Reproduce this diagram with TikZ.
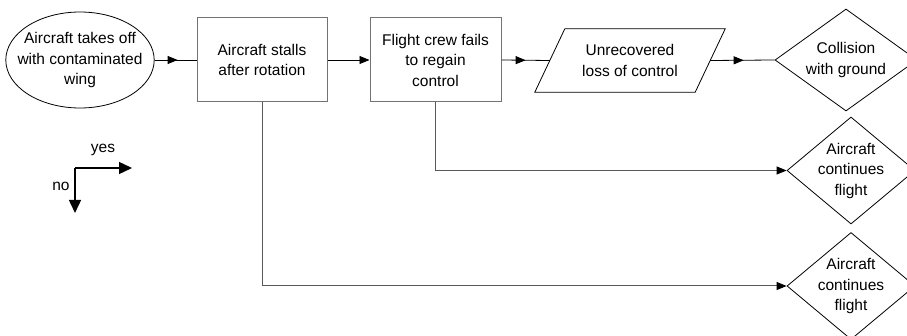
\documentclass[tikz,border=0pt]{standalone}
\usepackage{fontspec}
\setmainfont{Liberation Sans}
\usetikzlibrary{shapes.geometric,arrows.meta,decorations.markings}
\tikzset{flowhead/.tip={Triangle[length=10pt,width=8pt,color=black]}}
\begin{document}
\begin{tikzpicture}[x=1pt,y=-1pt,
  every node/.style={font=\fontsize{15.5}{20.5}\selectfont, align=center, inner sep=0pt},
  startstate/.style={draw, ellipse, line width=0.8pt, minimum width=148pt, minimum height=96pt, inner xsep=-10pt, inner ysep=0pt},
  event/.style={draw=black!55, line width=1pt, minimum height=84pt},
  outcome/.style={draw, diamond, line width=0.8pt, inner sep=-15pt},
  iobox/.style={minimum width=160pt, minimum height=63pt},
  tip/.style={-flowhead},
  midtip/.style={postaction={decorate}, decoration={markings, mark=at position #1 with {\arrow{flowhead}}}},
  flow/.style={line width=0.8pt},
  branch/.style={draw=black!65, line width=1pt},
  legend/.style={line width=1.4pt, -{Triangle[length=13pt,width=12pt]}},
]
\useasboundingbox (0,0) rectangle (907,336);
\clip (0,0) rectangle (907,336);

% main sequence
\node[startstate] (takeoff) at (80,60) {Aircraft takes off\\with contaminated\\wing};
\node[event, minimum width=130pt] (stall) at (262,60) {Aircraft stalls\\after rotation};
\node[event, minimum width=131pt] (crew) at (435.5,60) {Flight crew fails\\to regain\\control};
\node[iobox] (loss) at (630,60.5) {Unrecovered\\loss of control};
\draw[flow] ([xshift=15pt]loss.north west) -- ([xshift=15pt]loss.north east)
  -- ([xshift=-15pt]loss.south east) -- ([xshift=-15pt]loss.south west) -- cycle;

% outcomes
\node[outcome, minimum width=142pt, minimum height=102pt] (ground) at (846,60) {Collision\\with ground};
\node[outcome, minimum width=128pt, minimum height=107pt] (cont1) at (851,170.5) {Aircraft\\continues\\flight};
\node[outcome, minimum width=128pt, minimum height=107pt] (cont2) at (851,286) {Aircraft\\continues\\flight};

% "yes" branches
\draw[flow, midtip=0.55] (takeoff.east) -- (stall.west);
\draw[flow, tip] (stall.east) -- (crew.west);
\draw[flow, midtip=0.5] (crew.east) -- (loss.west);
\draw[flow, midtip=0.52] (loss.east) -- (ground.west);

% "no" branches
\draw[branch, tip] (crew.south) |- (cont1.west);
\draw[branch, tip] (stall.south) |- (cont2.west);

% legend
\coordinate (corner) at (75,168);
\coordinate (yestip) at (132,168);
\coordinate (notip) at (75,213);
\draw[legend] (corner) -- (yestip);
\draw[legend] (corner) -- (notip);
\node (yes) at (103,150) {yes};
\node (no) at (61,186) {no};
\end{tikzpicture}
\end{document}
